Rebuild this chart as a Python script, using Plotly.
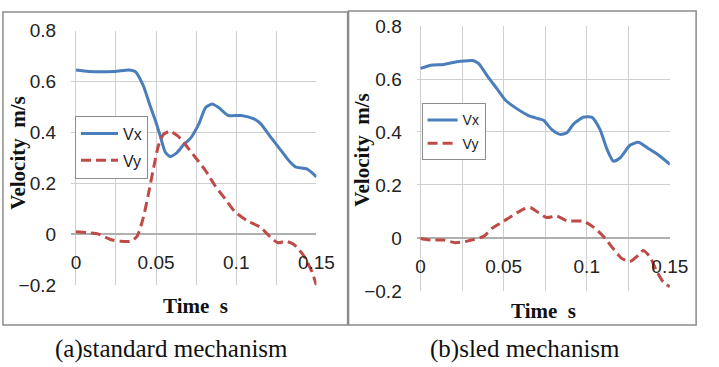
import plotly.graph_objects as go

# ---------------- data ----------------
a_vx_t = [0, 0.008, 0.024, 0.033, 0.037, 0.042, 0.046, 0.0495, 0.0526, 0.0556, 0.0586, 0.0627,
          0.0667, 0.0718, 0.0768, 0.0809, 0.0849, 0.089, 0.095, 0.103, 0.111, 0.115, 0.121,
          0.127, 0.133, 0.137, 0.144, 0.15]
a_vx = [0.646, 0.64, 0.64, 0.646, 0.64, 0.584, 0.51, 0.448, 0.386, 0.325, 0.306, 0.319,
        0.349, 0.38, 0.436, 0.498, 0.512, 0.498, 0.467, 0.467, 0.454, 0.436, 0.386,
        0.337, 0.288, 0.265, 0.257, 0.226]
a_vy_t = [0, 0.008, 0.014, 0.022, 0.028, 0.034, 0.038, 0.042, 0.045, 0.0485, 0.0515, 0.0546,
          0.0586, 0.0637, 0.0687, 0.0748, 0.0809, 0.087, 0.093, 0.099, 0.107, 0.115, 0.121,
          0.126, 0.131, 0.136, 0.142, 0.147, 0.15]
a_vy = [0.01, 0.006, 0.001, -0.021, -0.027, -0.027, -0.009, 0.065, 0.152, 0.263, 0.349, 0.393,
        0.405, 0.386, 0.349, 0.3, 0.25, 0.189, 0.14, 0.09, 0.053, 0.028, -0.009,
        -0.033, -0.027, -0.04, -0.083, -0.144, -0.2]

b_vx_t = [0, 0.0063, 0.014, 0.021, 0.032, 0.035, 0.041, 0.046, 0.051, 0.057, 0.065, 0.071,
          0.074, 0.079, 0.084, 0.088, 0.092, 0.098, 0.103, 0.108, 0.112, 0.116, 0.12,
          0.126, 0.131, 0.137, 0.143, 0.15]
b_vx = [0.64, 0.652, 0.655, 0.664, 0.669, 0.658, 0.604, 0.563, 0.521, 0.492, 0.462, 0.45,
        0.444, 0.409, 0.391, 0.397, 0.43, 0.456, 0.456, 0.409, 0.338, 0.29, 0.302,
        0.35, 0.361, 0.338, 0.314, 0.278]
b_vy_t = [0, 0.006, 0.014, 0.021, 0.028, 0.038, 0.043, 0.049, 0.055, 0.062, 0.066, 0.071,
          0.076, 0.082, 0.088, 0.098, 0.104, 0.11, 0.116, 0.121, 0.126, 0.131, 0.134,
          0.138, 0.142, 0.146, 0.15]
b_vy = [-0.002, -0.008, -0.008, -0.018, -0.012, 0.006, 0.036, 0.059, 0.083, 0.109, 0.115, 0.095,
        0.077, 0.083, 0.065, 0.063, 0.041, 0.006, -0.041, -0.077, -0.089, -0.065, -0.047,
        -0.071, -0.124, -0.166, -0.184]

series_names = ["Vx", "Vy"]
x_title = "Time\u00a0\u00a0s"
y_title = "Velocity\u00a0\u00a0m/s"
captions = ["(a)standard mechanism", "(b)sled mechanism"]

# ---------------- style ----------------
W, H = 719, 367
BLUE = "#4A7EBB"
RED = "#BE4B48"
GRID = "#CFCFCF"
SANS = "Liberation Sans, Arial, sans-serif"
SERIF = "Liberation Serif, Times New Roman, serif"


def px_x(p):
    return p / W


def px_y(p):
    return 1 - p / H


fig = go.Figure()

# panel geometry (pixels)
panels = [
    dict(l=72, r=324, t=22, b=292, xr=[-0.003, 0.15], leg_x=76, leg_y=112, leg_font=16,
         leg_w=37, leg_gap=3),
    dict(l=427, r=687, t=17, b=298, xr=[-0.0023, 0.15], leg_x=432, leg_y=99, leg_font=14,
         leg_w=30, leg_gap=2),
]
data = [
    (a_vx_t, a_vx, a_vy_t, a_vy),
    (b_vx_t, b_vx, b_vy_t, b_vy),
]
yr = [-0.2, 0.8]

for i, (p, d) in enumerate(zip(panels, data)):
    sfx = "" if i == 0 else str(i + 1)
    leg = "legend" if i == 0 else "legend2"
    fig.add_trace(go.Scatter(x=d[0], y=d[1], name=series_names[0], mode="lines",
                             legendgroup="vx" + sfx,
                             line=dict(color=BLUE, width=3, shape="spline", smoothing=0.6),
                             xaxis="x" + sfx, yaxis="y" + sfx, legend=leg))
    fig.add_trace(go.Scatter(x=d[2], y=d[3], name=series_names[1], mode="lines",
                             legendgroup="vy" + sfx,
                             line=dict(color=RED, width=3, dash="10px,5px", shape="spline", smoothing=0.6),
                             xaxis="x" + sfx, yaxis="y" + sfx, legend=leg))
    ydom = [px_y(p["b"]), px_y(p["t"])]
    xdom = [px_x(p["l"]), px_x(p["r"])]
    zero_pos = ydom[0] + (0 - yr[0]) / (yr[1] - yr[0]) * (ydom[1] - ydom[0])
    fig.update_layout(**{
        "xaxis" + sfx: dict(domain=xdom, range=p["xr"], anchor="free", position=zero_pos,
                            dtick=0.05, tick0=0, showgrid=True, gridcolor=GRID, gridwidth=1,
                            minor=dict(dtick=0.025, tick0=0, showgrid=True, gridcolor=GRID, gridwidth=1),
                            zeroline=False, showline=False, ticks="", ticklabelstandoff=15,
                            tickfont=dict(family=SANS, size=19, color="#222"),
                            fixedrange=True),
        "yaxis" + sfx: dict(domain=ydom, range=yr, anchor="x" + sfx, dtick=0.2, tick0=0,
                            showgrid=True, gridcolor=GRID, gridwidth=1,
                            zeroline=True, zerolinecolor="#AFAFAF", zerolinewidth=1.5,
                            showline=False, ticks="", ticklabelstandoff=14,
                            tickfont=dict(family=SANS, size=19, color="#222"),
                            fixedrange=True),
        leg: dict(x=px_x(p["leg_x"]), y=px_y(p["leg_y"]), xanchor="left", yanchor="top",
                  bgcolor="white", bordercolor="#8C8C8C", borderwidth=1,
                  font=dict(family=SANS, size=p["leg_font"], color="#222"),
                  itemwidth=p["leg_w"], tracegroupgap=p["leg_gap"]),
    })

annotations = [
    dict(text=x_title, x=px_x(200), y=px_y(314)),
    dict(text=x_title, x=px_x(557), y=px_y(319)),
    dict(text=y_title, x=px_x(18), y=px_y(152), textangle=-90),
    dict(text=y_title, x=px_x(370), y=px_y(148), textangle=-90),
]
for a in annotations:
    a.update(xref="paper", yref="paper", xanchor="center", yanchor="middle", showarrow=False,
             font=dict(family=SERIF, size=21, color="#111", weight="bold"))
for txt, cx in zip(captions, [175, 538.5]):
    annotations.append(dict(text=txt, x=px_x(cx), y=px_y(360), xref="paper", yref="paper",
                            xanchor="center", yanchor="middle", showarrow=False,
                            font=dict(family=SERIF, size=25, color="#111")))

shapes = [
    dict(type="rect", xref="paper", yref="paper", x0=px_x(2), x1=px_x(356), y0=px_y(334), y1=px_y(2),
         line=dict(color="#8C8C8C", width=1.5)),
    dict(type="rect", xref="paper", yref="paper", x0=px_x(357), x1=px_x(714), y0=px_y(334), y1=px_y(1),
         line=dict(color="#8C8C8C", width=1.5)),
]

fig.update_layout(width=W, height=H, margin=dict(l=0, r=0, t=0, b=0),
                  paper_bgcolor="white", plot_bgcolor="white",
                  annotations=annotations, shapes=shapes, showlegend=True)

fig.write_html("out.html")
